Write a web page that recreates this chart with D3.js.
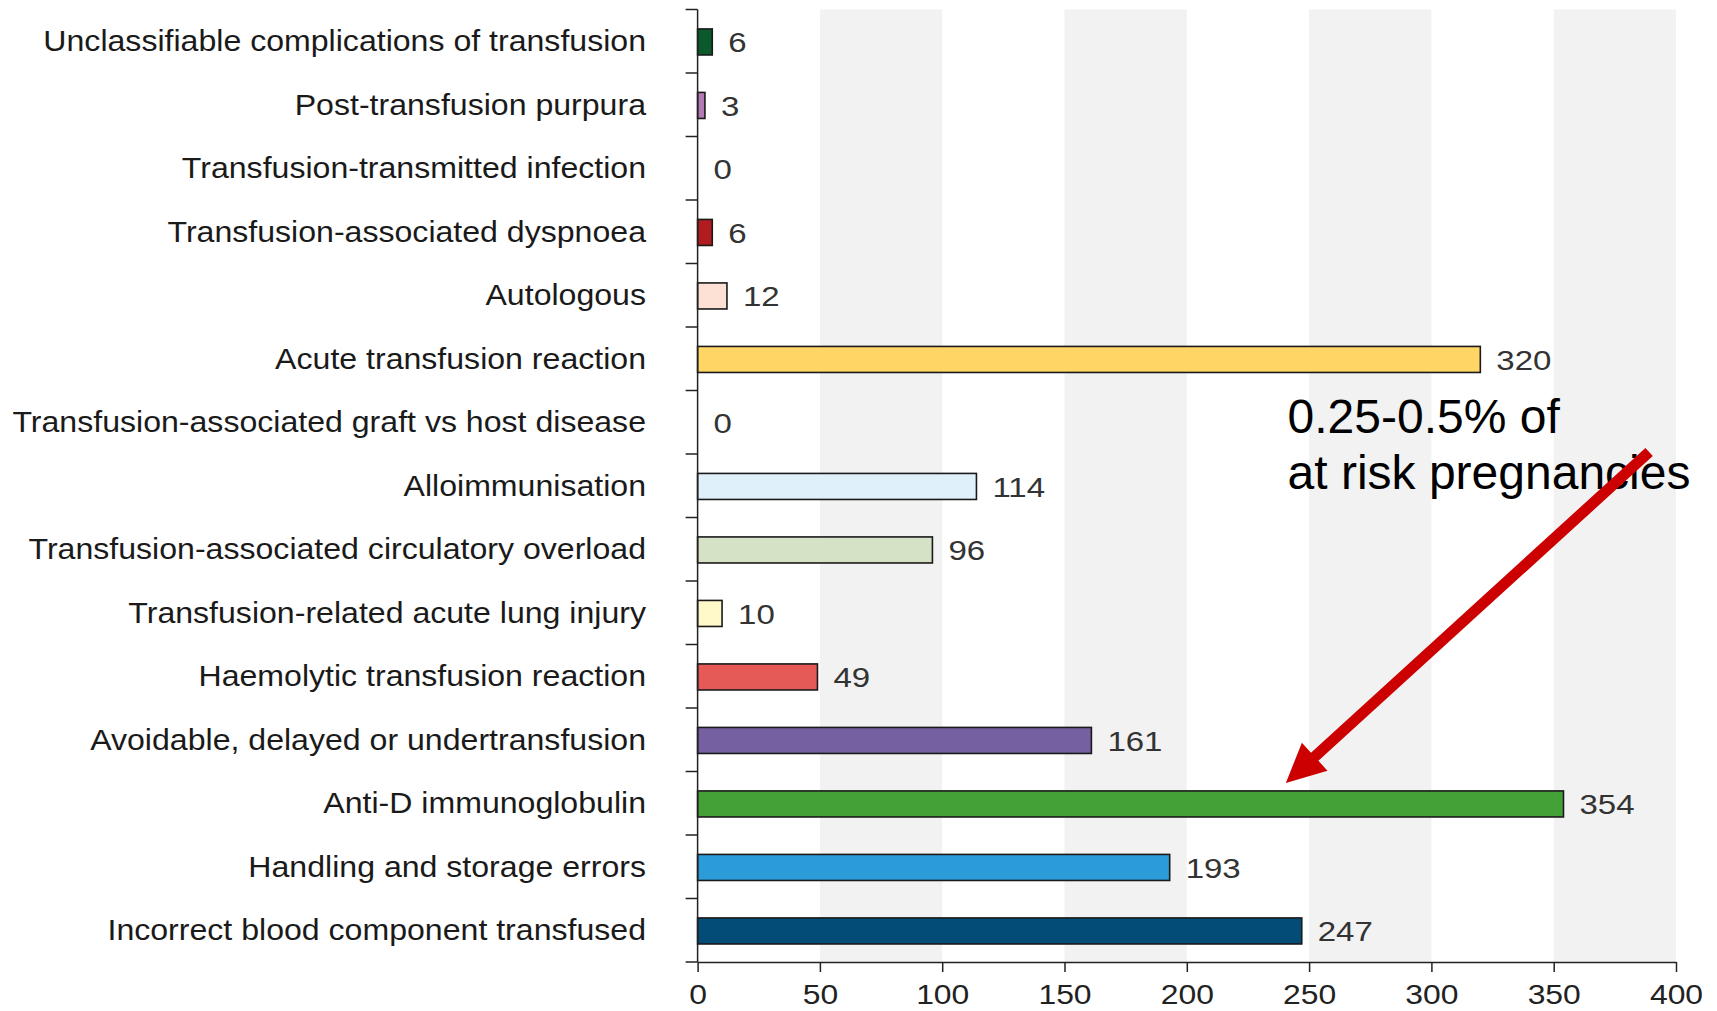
<!DOCTYPE html>
<html>
<head>
<meta charset="utf-8">
<script src="https://cdn.jsdelivr.net/npm/d3@7/dist/d3.min.js"></script>
<style>
  html, body { margin: 0; padding: 0; background: #fff; }
  svg { display: block; }
  text { font-family: "Liberation Sans", Arial, Helvetica, sans-serif; }
</style>
</head>
<body>
<svg id="chart" width="1717" height="1011"></svg>
<script>
const categories = [
  "Unclassifiable complications of transfusion",
  "Post-transfusion purpura",
  "Transfusion-transmitted infection",
  "Transfusion-associated dyspnoea",
  "Autologous",
  "Acute transfusion reaction",
  "Transfusion-associated graft vs host disease",
  "Alloimmunisation",
  "Transfusion-associated circulatory overload",
  "Transfusion-related acute lung injury",
  "Haemolytic transfusion reaction",
  "Avoidable, delayed or undertransfusion",
  "Anti-D immunoglobulin",
  "Handling and storage errors",
  "Incorrect blood component transfused"
];
const values = [6, 3, 0, 6, 12, 320, 0, 114, 96, 10, 49, 161, 354, 193, 247];
const barColors = [
  "#0b5a2b", "#b47ab4", "#cccccc", "#b01c20", "#fde1d4",
  "#ffd566", "#cccccc", "#dff0fb", "#d5e2c5", "#fff8c9",
  "#e55a57", "#7561a2", "#43a138", "#2b9cd8", "#034c78"
];
const xTicks = [0, 50, 100, 150, 200, 250, 300, 350, 400];
const shadedBands = [[50, 100], [150, 200], [250, 300], [350, 400]];
const annotationLines = ["0.25-0.5% of", "at risk pregnancies"];

const svg = d3.select("#chart");
const x = d3.scaleLinear().domain([0, 400]).range([697.6, 1676]);
const pad = 0.59;
const y = d3.scaleBand().domain(categories).range([9.5, 962])
  .paddingInner(pad).paddingOuter(pad / 2);
const step = y.step();
const bandStart = c => y(c) - step * pad / 2;
const yTop = y.range()[0], yBottom = y.range()[1];

// shaded background bands
svg.append("g").selectAll("rect").data(shadedBands).join("rect")
  .attr("x", d => x(d[0])).attr("width", d => x(d[1]) - x(d[0]))
  .attr("y", yTop).attr("height", yBottom - yTop)
  .attr("fill", "#f2f2f2");

// bars
svg.append("g").selectAll("rect").data(categories.filter((c, i) => values[i] > 0)).join("rect")
  .attr("x", x(0))
  .attr("y", c => y(c) + 0.7)
  .attr("width", c => x(values[categories.indexOf(c)]) - x(0))
  .attr("height", y.bandwidth())
  .attr("fill", c => barColors[categories.indexOf(c)])
  .attr("stroke", "#1a1a1a").attr("stroke-width", 1.6);

// value labels
svg.append("g").selectAll("text").data(categories).join("text")
  .attr("transform", (c, i) => `translate(${x(values[i]) + 16},${y(c) + y.bandwidth() / 2 + 10.8}) scale(1.2,1)`)
  .attr("font-size", 27.5).attr("fill", "#333")
  .text((c, i) => values[i]);

// category labels
svg.append("g").selectAll("text").data(categories).join("text")
  .attr("transform", c => `translate(646,${y(c) + y.bandwidth() / 2 + 10}) scale(1.07,1)`)
  .attr("text-anchor", "end").attr("font-size", 30).attr("fill", "#1a1a1a")
  .text(c => c);

// y axis line and boundary ticks
const yTickPos = categories.map(bandStart).concat([yBottom]);
const gy = svg.append("g").attr("stroke", "#222").attr("stroke-width", 1.5);
gy.append("line").attr("x1", x(0)).attr("x2", x(0)).attr("y1", yTop).attr("y2", yBottom);
gy.selectAll("line.t").data(yTickPos).join("line").attr("class", "t")
  .attr("x1", x(0) - 12).attr("x2", x(0)).attr("y1", d => d).attr("y2", d => d);

// x axis
const gx = svg.append("g").attr("transform", `translate(0,${yBottom})`)
  .call(d3.axisBottom(x).tickValues(xTicks).tickSize(10).tickSizeOuter(0));
gx.select(".domain").attr("stroke", "#222").attr("stroke-width", 1.5);
gx.selectAll(".tick line").attr("stroke", "#222").attr("stroke-width", 1.5);
gx.selectAll(".tick text")
  .attr("y", 42).attr("dy", null)
  .attr("transform", "scale(1.18,1)")
  .attr("font-size", 27).attr("fill", "#222")
  .style("font-family", '"Liberation Sans", Arial, sans-serif');

// annotation text
const ann = svg.append("g");
ann.selectAll("text").data(annotationLines).join("text")
  .attr("x", x(241.2)).attr("y", (d, i) => 433 + i * 56)
  .attr("font-size", 48).attr("fill", "#000")
  .text(d => d);

// arrow (annotation) from tail to tip, in data coordinates
const tail = [x(389), bandStart("Alloimmunisation") - 2];
const tip = [x(240.5), bandStart("Anti-D immunoglobulin") + 11.5];
const dx = tip[0] - tail[0], dy = tip[1] - tail[1];
const len = Math.hypot(dx, dy);
const ux = dx / len, uy = dy / len;
const nx = -uy, ny = ux;
const hw = 5.5, headLen = 39, headHW = 19;
const base = [tip[0] - ux * headLen, tip[1] - uy * headLen];
const pts = [
  [tail[0] + nx * hw, tail[1] + ny * hw],
  [base[0] + nx * hw, base[1] + ny * hw],
  [base[0] + nx * headHW, base[1] + ny * headHW],
  tip,
  [base[0] - nx * headHW, base[1] - ny * headHW],
  [base[0] - nx * hw, base[1] - ny * hw],
  [tail[0] - nx * hw, tail[1] - ny * hw]
];
svg.append("path")
  .attr("d", d3.line()(pts) + "Z")
  .attr("fill", "#cc0000");
</script>
</body>
</html>
